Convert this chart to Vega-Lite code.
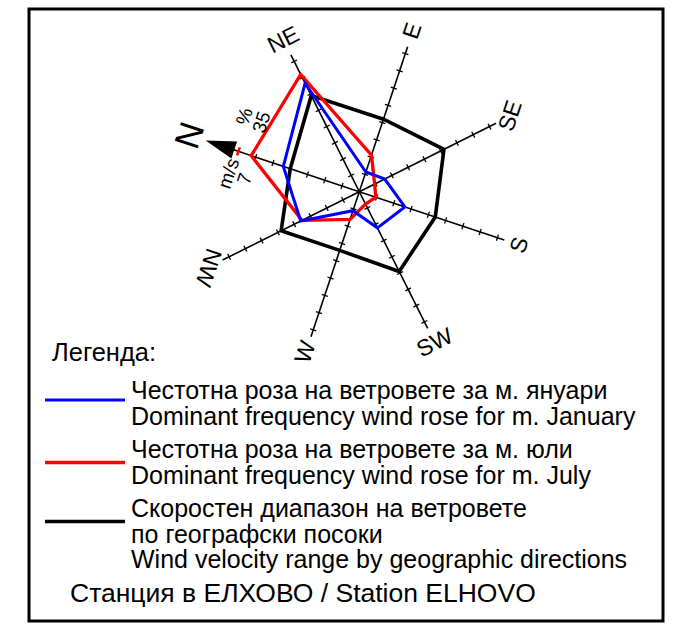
{
  "$schema": "https://vega.github.io/schema/vega-lite/v6.json",
  "width": 634,
  "height": 612,
  "padding": {"left": 29, "top": 9, "right": 13, "bottom": 6},
  "autosize": {"type": "none"},
  "background": "white",
  "config": {
    "font": "Liberation Sans",
    "view": {"stroke": "black", "strokeWidth": 3},
    "text": {"color": "black"}
  },
  "title": {
    "text": "Станция в ЕЛХОВО / Station ELHOVO",
    "orient": "bottom",
    "anchor": "start",
    "frame": "group",
    "offset": -40,
    "dx": 41,
    "fontSize": 26.5,
    "fontWeight": "normal",
    "color": "black",
    "font": "Liberation Sans"
  },
  "datasets": {
    "rose": [
      {"dir": "N", "deg": 0, "jan": 22.0, "jul": 31.3, "vel": 4.0},
      {"dir": "NE", "deg": 45, "jan": 33.3, "jul": 36.0, "vel": 5.9},
      {"dir": "E", "deg": 90, "jan": 5.7, "jul": 10.6, "vel": 4.2},
      {"dir": "SE", "deg": 135, "jan": 7.8, "jul": 4.7, "vel": 5.2},
      {"dir": "S", "deg": 180, "jan": 13.2, "jul": 4.8, "vel": 4.4},
      {"dir": "SW", "deg": 225, "jan": 11.1, "jul": 3.8, "vel": 4.9},
      {"dir": "W", "deg": 270, "jan": 5.5, "jul": 8.0, "vel": 3.4},
      {"dir": "NW", "deg": 315, "jan": 18.0, "jul": 17.6, "vel": 4.8}
    ],
    "spokes": [
      {"dir": "N", "deg": 0, "ticks": [1, 2, 3, 4, 5, 6]},
      {"dir": "NE", "deg": 45, "ticks": [1, 2, 3, 4, 5, 6, 7, 8]},
      {"dir": "E", "deg": 90, "ticks": [1, 2, 3, 4, 5, 6, 7, 8]},
      {"dir": "SE", "deg": 135, "ticks": [1, 2, 3, 4, 5, 6, 7, 8]},
      {"dir": "S", "deg": 180, "ticks": [1, 2, 3, 4, 5, 6, 7, 8]},
      {"dir": "SW", "deg": 225, "ticks": [1, 2, 3, 4, 5, 6, 7, 8]},
      {"dir": "W", "deg": 270, "ticks": [1, 2, 3, 4, 5, 6, 7, 8]},
      {"dir": "NW", "deg": 315, "ticks": [1, 2, 3, 4, 5, 6, 7, 8]}
    ]
  },
  "layer": [
    {
      "data": {"name": "spokes"},
      "transform": [
        {"calculate": "datum.deg == 0 ? 7.4 : 8.4", "as": "len"},
        {"calculate": "0", "as": "ox"},
        {"calculate": "0", "as": "oy"},
        {"calculate": "datum.len * cos((161.565 - datum.deg) * PI / 180)", "as": "px"},
        {"calculate": "datum.len * sin((161.565 - datum.deg) * PI / 180)", "as": "py"}
      ],
      "mark": {"type": "rule", "color": "black", "strokeWidth": 1.6},
      "encoding": {
        "x": {"field": "ox", "type": "quantitative", "scale": {"domain": [-18.148, 16.687], "nice": false, "zero": false}, "axis": null},
        "y": {"field": "oy", "type": "quantitative", "scale": {"domain": [-23.588, 10.038], "nice": false, "zero": false}, "axis": null},
        "x2": {"field": "px"},
        "y2": {"field": "py"}
      }
    },
    {
      "data": {"name": "spokes"},
      "transform": [
        {"flatten": ["ticks"], "as": ["t"]},
        {"calculate": "datum.t * cos((161.565 - datum.deg) * PI / 180)", "as": "px"},
        {"calculate": "datum.t * sin((161.565 - datum.deg) * PI / 180)", "as": "py"},
        {"calculate": "datum.deg + 108.435", "as": "rot"}
      ],
      "mark": {"type": "point", "shape": "stroke", "size": 42, "strokeWidth": 1.3, "color": "black", "filled": false, "opacity": 1},
      "encoding": {
        "x": {"field": "px", "type": "quantitative", "scale": {"domain": [-18.148, 16.687], "nice": false, "zero": false}, "axis": null},
        "y": {"field": "py", "type": "quantitative", "scale": {"domain": [-23.588, 10.038], "nice": false, "zero": false}, "axis": null},
        "angle": {"field": "rot", "type": "quantitative", "scale": null}
      }
    },
    {
      "data": {"name": "spokes"},
      "transform": [
        {"filter": "datum.dir == 'N'"},
        {"calculate": "7 * cos(161.565 * PI / 180)", "as": "px"},
        {"calculate": "7 * sin(161.565 * PI / 180)", "as": "py"}
      ],
      "mark": {"type": "point", "shape": "stroke", "size": 70, "strokeWidth": 2.5, "color": "#ff0000", "filled": false, "opacity": 1, "angle": 108.435},
      "encoding": {
        "x": {"field": "px", "type": "quantitative", "scale": {"domain": [-18.148, 16.687], "nice": false, "zero": false}, "axis": null},
        "y": {"field": "py", "type": "quantitative", "scale": {"domain": [-23.588, 10.038], "nice": false, "zero": false}, "axis": null}
      }
    },
    {
      "data": {"name": "spokes"},
      "transform": [
        {"filter": "datum.dir == 'N'"},
        {"calculate": "8.07 * cos(161.565 * PI / 180)", "as": "px"},
        {"calculate": "8.07 * sin(161.565 * PI / 180)", "as": "py"}
      ],
      "mark": {"type": "point", "shape": "M -1 0 L 1 -0.6 L 1 0.6 Z", "size": 906, "filled": true, "color": "black", "opacity": 1, "strokeWidth": 0, "angle": 18.435},
      "encoding": {
        "x": {"field": "px", "type": "quantitative", "scale": {"domain": [-18.148, 16.687], "nice": false, "zero": false}, "axis": null},
        "y": {"field": "py", "type": "quantitative", "scale": {"domain": [-23.588, 10.038], "nice": false, "zero": false}, "axis": null}
      }
    },
    {
      "data": {"name": "rose"},
      "transform": [
        {"fold": ["vel", "jul", "jan"], "as": ["series", "value"]},
        {"calculate": "datum.series == 'vel' ? datum.value : datum.value / 5", "as": "r"},
        {"calculate": "datum.r * cos((161.565 - datum.deg) * PI / 180)", "as": "px"},
        {"calculate": "datum.r * sin((161.565 - datum.deg) * PI / 180)", "as": "py"}
      ],
      "mark": {"type": "line", "interpolate": "linear-closed", "strokeJoin": "miter"},
      "encoding": {
        "x": {"field": "px", "type": "quantitative", "scale": {"domain": [-18.148, 16.687], "nice": false, "zero": false}, "axis": null},
        "y": {"field": "py", "type": "quantitative", "scale": {"domain": [-23.588, 10.038], "nice": false, "zero": false}, "axis": null},
        "order": {"field": "deg", "type": "quantitative"},
        "color": {
          "field": "series",
          "type": "nominal",
          "scale": {"domain": ["jan", "jul", "vel"], "range": ["#0000ff", "#ff0000", "#000000"]},
          "legend": {
            "orient": "none",
            "legendX": 23,
            "legendY": 332,
            "direction": "vertical",
            "gridAlign": "none",
            "title": "Легенда:",
            "titleFontSize": 25.5,
            "titleFontWeight": "normal",
            "titleColor": "black",
            "titleFont": "Liberation Sans",
            "titlePadding": -8,
            "labelFont": "Liberation Sans",
            "labelFontSize": 25,
            "labelColor": "black",
            "labelLimit": 700,
            "labelOffset": 4,
            "symbolType": "stroke",
            "symbolSize": 6400,
            "symbolStrokeWidth": 3,
            "symbolOffset": -9,
            "rowPadding": -9,
            "padding": 0,
            "labelExpr": "datum.value == 'jan' ? ['Честотна роза на ветровете за м. януари', 'Dominant frequency wind rose for m. January'] : datum.value == 'jul' ? ['Честотна роза на ветровете за м. юли', 'Dominant frequency wind rose for m. July'] : ['Скоростен диапазон на ветровете', 'по географски посоки', 'Wind velocity range by geographic directions']",
            "encode": {
              "labels": {
                "update": {
                  "lineHeight": {"value": 25.5},
                  "dy": {"signal": "datum.value == 'vel' ? -12.5 : datum.value == 'jul' ? -12.5 : -9"}
                }
              }
            }
          }
        },
        "strokeWidth": {
          "field": "series",
          "type": "nominal",
          "scale": {"domain": ["jan", "jul", "vel"], "range": [3, 3.6, 4]},
          "legend": null
        }
      }
    },
    {
      "data": {"name": "rose"},
      "transform": [
        {"filter": "datum.dir != 'N'"},
        {"calculate": "9.3 * cos((161.565 - datum.deg) * PI / 180)", "as": "px"},
        {"calculate": "9.3 * sin((161.565 - datum.deg) * PI / 180)", "as": "py"},
        {"calculate": "datum.dir == 'NE' || datum.dir == 'SW' ? 333.435 : datum.dir == 'NW' ? 108.435 : 288.435", "as": "rot"}
      ],
      "mark": {"type": "text", "fontSize": 23, "align": "center", "baseline": "middle", "color": "black"},
      "encoding": {
        "x": {"field": "px", "type": "quantitative", "scale": {"domain": [-18.148, 16.687], "nice": false, "zero": false}, "axis": null},
        "y": {"field": "py", "type": "quantitative", "scale": {"domain": [-23.588, 10.038], "nice": false, "zero": false}, "axis": null},
        "text": {"field": "dir", "type": "nominal"},
        "angle": {"field": "rot", "type": "quantitative", "scale": null}
      }
    },
    {
      "data": {"name": "rose"},
      "transform": [
        {"filter": "datum.dir == 'N'"},
        {"calculate": "9.78 * cos(161.565 * PI / 180)", "as": "px"},
        {"calculate": "9.78 * sin(161.565 * PI / 180)", "as": "py"}
      ],
      "mark": {"type": "text", "fontSize": 35, "align": "center", "baseline": "middle", "color": "black", "angle": 288.435},
      "encoding": {
        "x": {"field": "px", "type": "quantitative", "scale": {"domain": [-18.148, 16.687], "nice": false, "zero": false}, "axis": null},
        "y": {"field": "py", "type": "quantitative", "scale": {"domain": [-23.588, 10.038], "nice": false, "zero": false}, "axis": null},
        "text": {"field": "dir", "type": "nominal"}
      }
    },
    {
      "data": {"name": "spokes"},
      "transform": [
        {"filter": "datum.dir == 'N'"},
        {"calculate": "7 * cos(161.565 * PI / 180)", "as": "px"},
        {"calculate": "7 * sin(161.565 * PI / 180)", "as": "py"}
      ],
      "mark": {"type": "text", "text": ["%", "35"], "lineHeight": 18, "fontSize": 19, "align": "center", "baseline": "middle", "color": "black", "angle": 288.435, "dx": 35, "dy": -5},
      "encoding": {
        "x": {"field": "px", "type": "quantitative", "scale": {"domain": [-18.148, 16.687], "nice": false, "zero": false}, "axis": null},
        "y": {"field": "py", "type": "quantitative", "scale": {"domain": [-23.588, 10.038], "nice": false, "zero": false}, "axis": null}
      }
    },
    {
      "data": {"name": "spokes"},
      "transform": [
        {"filter": "datum.dir == 'N'"},
        {"calculate": "7 * cos(161.565 * PI / 180)", "as": "px"},
        {"calculate": "7 * sin(161.565 * PI / 180)", "as": "py"}
      ],
      "mark": {"type": "text", "text": ["m/s", "7"], "lineHeight": 17, "fontSize": 19, "align": "center", "baseline": "middle", "color": "black", "angle": 288.435, "dx": -24, "dy": -2},
      "encoding": {
        "x": {"field": "px", "type": "quantitative", "scale": {"domain": [-18.148, 16.687], "nice": false, "zero": false}, "axis": null},
        "y": {"field": "py", "type": "quantitative", "scale": {"domain": [-23.588, 10.038], "nice": false, "zero": false}, "axis": null}
      }
    }
  ]
}
